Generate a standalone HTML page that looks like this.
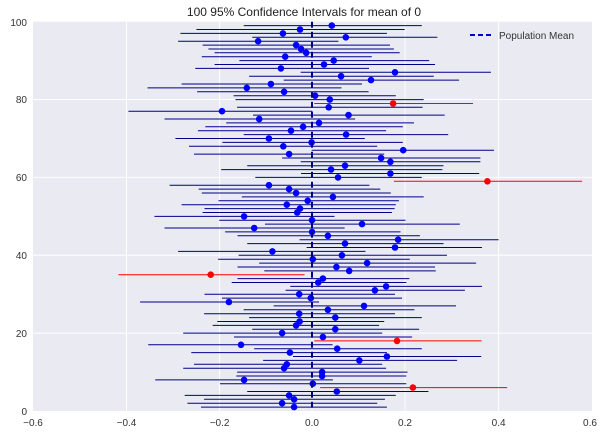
<!DOCTYPE html>
<html><head><meta charset="utf-8"><style>
html,body{margin:0;padding:0;background:#fff;}
svg{display:block;font-family:"Liberation Sans",sans-serif;}
</style></head><body>
<svg id="s" width="608" height="436" viewBox="0 0 608 436" xmlns="http://www.w3.org/2000/svg">
<rect x="33" y="21.7" width="559" height="389.3" fill="#EAEAF2"/>
<g stroke="#fff" stroke-width="1">
<line x1="126.5" y1="21.7" x2="126.5" y2="411"/>
<line x1="219.6" y1="21.7" x2="219.6" y2="411"/>
<line x1="312" y1="21.7" x2="312" y2="411"/>
<line x1="405" y1="21.7" x2="405" y2="411"/>
<line x1="498.6" y1="21.7" x2="498.6" y2="411"/>
<line x1="33" y1="333.1" x2="592" y2="333.1"/>
<line x1="33" y1="255.3" x2="592" y2="255.3"/>
<line x1="33" y1="177.4" x2="592" y2="177.4"/>
<line x1="33" y1="99.5" x2="592" y2="99.5"/>
</g>
<g id="d"></g>
<line x1="312" y1="21.7" x2="312" y2="411" stroke="#00008b" stroke-width="2" stroke-dasharray="6,4"/>
<text x="304" y="16" font-size="12" fill="#222" text-anchor="middle">100 95% Confidence Intervals for mean of 0</text>
<line x1="470" y1="35" x2="491" y2="35" stroke="#0000cc" stroke-width="2" stroke-dasharray="5,3"/>
<text x="499" y="39" font-size="10" fill="#333">Population Mean</text>
<g font-size="10" fill="#333" text-anchor="end">
<text x="27" y="415">0</text><text x="27" y="337">20</text><text x="27" y="259">40</text>
<text x="27" y="181">60</text><text x="27" y="103">80</text><text x="27" y="26">100</text>
</g>
<g font-size="10" fill="#333" text-anchor="middle">
<text x="33" y="426">−0.6</text><text x="126.5" y="426">−0.4</text><text x="219.6" y="426">−0.2</text>
<text x="312" y="426">0.0</text><text x="405" y="426">0.2</text><text x="498.6" y="426">0.4</text><text x="590" y="426">0.6</text>
</g>
</svg>
<script>
var D=[[99,855,628,1087],[98,773,506,1043],[97,729,465,997],[96,891,650,1127],[95,665,459,872],[94,763,522,1005],[93,776,537,1015],[92,789,553,1030],[91,735,520,958],[90,860,617,1106],[89,835,553,1121],[88,724,503,951],[87,1018,775,1265],[86,879,642,1118],[85,956,731,1183],[84,698,468,933],[83,636,380,880],[82,732,508,950],[81,812,602,1020],[80,850,607,1092],[79,1013,810,1219,1],[78,847,611,1089],[77,572,331,805],[76,898,652,1146],[75,668,424,915],[74,822,583,1067],[73,781,529,1038],[72,750,510,995],[71,892,628,1155],[70,693,452,940],[69,803,573,1038],[68,730,487,972],[67,1039,803,1273],[66,745,500,990],[65,982,727,1238],[64,1006,775,1238],[63,889,637,1143],[62,853,570,1140],[61,1006,776,1235],[60,871,658,1087],[59,1256,1015,1500,1],[58,693,437,952],[57,745,512,980],[56,763,520,1007],[55,858,623,1092],[54,793,563,1028],[53,739,468,1020],[52,773,527,1017],[51,766,522,1010],[50,629,398,862],[49,804,565,1045],[48,933,683,1185],[47,655,424,888],[46,804,580,1032],[45,845,612,1082],[44,1026,772,1285],[43,889,637,1143],[42,1018,790,1242],[41,702,459,942],[40,881,615,1152],[39,806,562,1056],[38,946,668,1227],[37,867,612,1121],[36,900,681,1123],[35,543,305,785,1],[34,832,612,1055],[33,820,597,1047],[32,995,748,1242],[31,966,736,1198],[30,771,527,1018],[29,801,572,1036],[28,590,361,822],[27,938,705,1175],[26,845,628,1068],[25,771,526,1018],[24,864,642,1087],[23,772,560,990],[22,763,548,977],[21,864,650,1080],[20,727,472,985],[19,832,603,1062],[18,1023,810,1241,1],[17,621,382,857],[16,869,655,1087],[15,747,493,997],[14,997,755,1240],[13,926,678,1178],[12,739,500,985],[11,732,472,995],[10,830,611,1050],[9,830,609,1047],[8,629,400,858],[7,806,567,1047],[6,1064,825,1307,1],[5,868,637,1104],[4,745,476,1020],[3,758,526,992],[2,727,483,972],[1,758,518,997]];
var g=document.getElementById('d'),h='';
D.forEach(function(r){var y=(411-3.893*r[0]).toFixed(1),k=2.577,red=r[4];
h+='<line x1="'+(r[2]/k).toFixed(1)+'" y1="'+y+'" x2="'+(r[3]/k).toFixed(1)+'" y2="'+y+'" stroke="'+(red?'#ff0000':'#00008b')+'" stroke-width="1"/>';
h+='<circle cx="'+(r[1]/k).toFixed(1)+'" cy="'+y+'" r="3.3" fill="'+(red?'#ff0000':'#0000ff')+'"/>';});
g.innerHTML=h;
</script>
</body></html>
